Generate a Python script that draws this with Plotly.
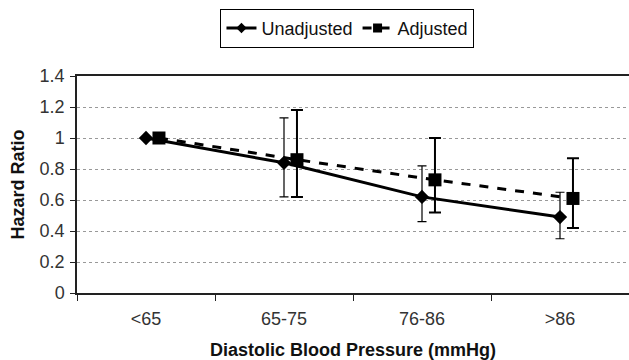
import plotly.graph_objects as go

categories = ["<65", "65-75", "76-86", ">86"]
unadj = [1.0, 0.84, 0.62, 0.49]
unadj_hi = [1.0, 1.13, 0.82, 0.65]
unadj_lo = [1.0, 0.62, 0.46, 0.35]
adj = [1.0, 0.86, 0.73, 0.61]
adj_hi = [1.0, 1.18, 1.0, 0.87]
adj_lo = [1.0, 0.62, 0.52, 0.42]

idx = list(range(len(categories)))
shift = 0.094
x_u = [i for i in idx]
x_a = [i + shift for i in idx]

font = "Liberation Sans, Arial, sans-serif"

fig = go.Figure()
fig.add_trace(go.Scatter(
    x=x_u, y=unadj, name="Unadjusted", mode="lines+markers", showlegend=False,
    line=dict(color="black", width=3),
    marker=dict(symbol="diamond", size=11, color="black"),
    error_y=dict(type="data", symmetric=False,
                 array=[h - v for h, v in zip(unadj_hi, unadj)],
                 arrayminus=[v - l for l, v in zip(unadj_lo, unadj)],
                 color="black", thickness=1.2, width=4.5),
))
fig.add_trace(go.Scatter(
    x=x_a, y=adj, name="Adjusted", mode="lines+markers", showlegend=False,
    line=dict(color="black", width=3, dash="dash"),
    marker=dict(symbol="square", size=13, color="black"),
    error_y=dict(type="data", symmetric=False,
                 array=[h - v for h, v in zip(adj_hi, adj)],
                 arrayminus=[v - l for l, v in zip(adj_lo, adj)],
                 color="black", thickness=2, width=6),
))
# legend entries (smaller symbols, as in the original legend)
fig.add_trace(go.Scatter(
    x=[None], y=[None], name="Unadjusted", mode="lines+markers",
    line=dict(color="black", width=3),
    marker=dict(symbol="diamond", size=8, color="black"),
))
fig.add_trace(go.Scatter(
    x=[None], y=[None], name="Adjusted", mode="lines+markers",
    line=dict(color="black", width=3, dash="dash"),
    marker=dict(symbol="square", size=9, color="black"),
))

fig.update_layout(
    width=629, height=360,
    margin=dict(l=77, r=0, t=76, b=67, autoexpand=False),
    paper_bgcolor="white", plot_bgcolor="white",
    font=dict(family=font, size=18, color="#222"),
    showlegend=True,
    legend=dict(orientation="h", x=0.49, xanchor="center", y=1.31, yanchor="top",
                bordercolor="black", borderwidth=1, font=dict(size=18, color="#111"),
                itemwidth=30, tracegroupgap=0),
)
fig.update_xaxes(
    range=[-0.5, 3.5], tickmode="array", tickvals=idx, ticktext=categories,
    ticks="", showgrid=False, showline=True, linecolor="#222", linewidth=1.5,
    mirror=True, zeroline=False, automargin=False,
    minor=dict(tickmode="array", tickvals=[-0.5, 0.5, 1.5, 2.5], ticks="outside",
               ticklen=6, tickcolor="#222", tickwidth=1, showgrid=False),
    title=dict(text="<b>Diastolic Blood Pressure (mmHg)</b>", font=dict(size=18, color="#111"), standoff=16),
    tickfont=dict(size=18, color="#333"),
    ticklabelstandoff=9,
)
fig.update_yaxes(
    range=[0, 1.4], tickmode="array", tickvals=[0, 0.2, 0.4, 0.6, 0.8, 1.0, 1.2, 1.4],
    ticktext=["0", "0.2", "0.4", "0.6", "0.8", "1", "1.2", "1.4"],
    ticks="outside", ticklen=5, tickcolor="#222",
    showgrid=True, gridcolor="#999", griddash="dot", gridwidth=1,
    showline=True, linecolor="#222", linewidth=1.5, zeroline=False, automargin=False,
    title=dict(text="<b>Hazard Ratio</b>", font=dict(size=18, color="#111"), standoff=10),
    tickfont=dict(size=18, color="#333"),
    ticklabelstandoff=2,
)

fig.write_html("out.html", config={"displayModeBar": False},
               post_script="document.body.style.margin='0';")
